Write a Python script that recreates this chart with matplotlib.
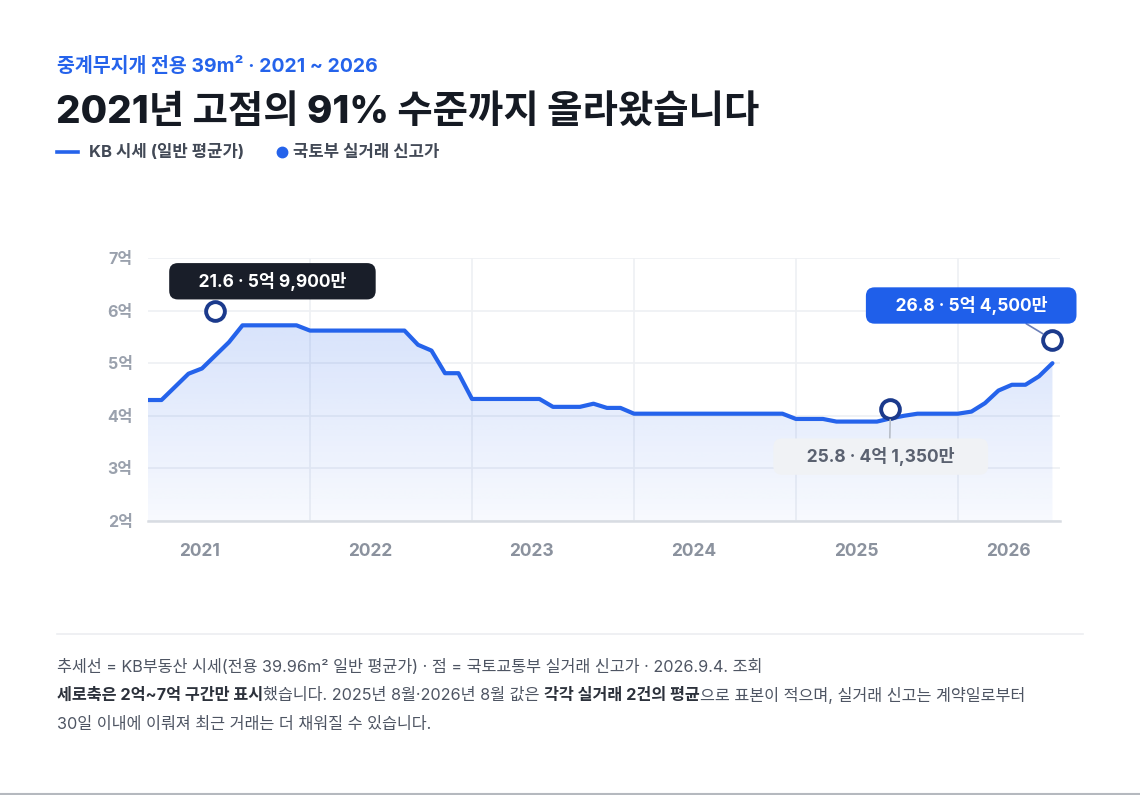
import numpy as np
import matplotlib
matplotlib.use("Agg")
import matplotlib.pyplot as plt
from matplotlib.text import Annotation

# Inter for latin/digits, Noto CJK KR for hangul
plt.rcParams['font.family'] = ['Inter', 'Noto Sans CJK KR', 'DejaVu Sans']

# KB monthly average price (억), Jan 2021 .. Aug 2026
kb_values = [
    4.30, 4.30, 4.55, 4.80, 4.90, 5.15, 5.40, 5.72, 5.72, 5.72, 5.72, 5.72,   # 2021
    5.62, 5.62, 5.62, 5.62, 5.62, 5.62, 5.62, 5.62, 5.35, 5.24, 4.81, 4.81,   # 2022
    4.32, 4.32, 4.32, 4.32, 4.32, 4.32, 4.17, 4.17, 4.17, 4.23, 4.15, 4.15,   # 2023
    4.04, 4.04, 4.04, 4.04, 4.04, 4.04, 4.04, 4.04, 4.04, 4.04, 4.04, 4.04,   # 2024
    3.94, 3.94, 3.94, 3.89, 3.89, 3.89, 3.89, 3.95, 4.00, 4.04, 4.04, 4.04,   # 2025
    4.04, 4.08, 4.24, 4.48, 4.59, 4.59, 4.75, 5.00,                           # 2026
]
kb_start_year = 2021

# 국토부 실거래 신고가 (yy.m, 만원)
deal_dates = ['21.6', '25.8', '26.8']
deal_prices = [59900, 41350, 54500]

years = [2021, 2022, 2023, 2024, 2025, 2026]
ytick_values = [2, 3, 4, 5, 6, 7]

BLUE = '#2563eb'
NAVY = '#1b3a8c'
W, H = 1140, 795


def fx(x):
    return x / W


def fy(y):
    return 1 - y / H


def deal_t(s):
    yy, mm = s.split('.')
    return 2000 + int(yy) + (int(mm) - 1) / 12


def price_text(manwon):
    eok, man = divmod(manwon, 10000)
    return f"{eok}억 {man:,}만"


t = kb_start_year + np.arange(len(kb_values)) / 12
v = np.array(kb_values)
dt = [deal_t(s) for s in deal_dates]
dv = [p / 10000 for p in deal_prices]

fig = plt.figure(figsize=(W / 100, H / 100), dpi=100)
fig.patch.set_facecolor('white')

# header
fig.text(fx(57), fy(66), "중계무지개 전용 39m² · 2021 ~ 2026", color=BLUE,
         fontsize=14, fontweight='bold', va='center')
fig.text(fx(56), fy(114), "2021년 고점의 91% 수준까지 올라왔습니다", color='#151a23',
         fontsize=27.7, fontweight='heavy', va='center')
fig.add_artist(plt.Line2D([fx(57), fx(78)], [fy(152), fy(152)], color=BLUE, lw=2.6))
fig.text(fx(89), fy(152), "KB 시세 (일반 평균가)", color='#424956',
         fontsize=12, fontweight='bold', va='center')
fig.add_artist(plt.Line2D([fx(282)], [fy(152)], marker='o', ms=7.5, color=BLUE, lw=0))
fig.text(fx(293), fy(152), "국토부 실거래 신고가", color='#424956',
         fontsize=12, fontweight='bold', va='center')

# chart
ax = fig.add_axes([fx(148), fy(521), (1060 - 148) / W, (521 - 258) / H])
ax.set_xlim(2021.0, 2026.63)
ax.set_ylim(2, 7)

poly = ax.fill_between(t, v, 2, color='none', lw=0)
grad = np.zeros((200, 2, 4))
grad[..., 0] = 37 / 255
grad[..., 1] = 99 / 255
grad[..., 2] = 235 / 255
grad[..., 3] = np.linspace(0.035, 0.18, 200)[:, None]
img = ax.imshow(grad, extent=[t[0], t[-1] + 0.05, 2, v.max()], origin='lower',
                aspect='auto', interpolation='bicubic', zorder=1)
img.set_clip_path(poly.get_paths()[0], transform=ax.transData)

ax.plot(t, v, color=BLUE, lw=3.0, solid_joinstyle='round', solid_capstyle='round', zorder=3)

ax.set_yticks(ytick_values)
ax.set_yticklabels([f"{y}억" for y in ytick_values], color='#9aa1ad',
                   fontsize=11.5, fontweight='bold')
ax.set_xticks([2021.32, 2022.37, 2023.37, 2024.37, 2025.37, 2026.31])
ax.set_xticklabels([str(y) for y in years], color='#8b929e', fontsize=12.5,
                   fontweight='bold')
ax.set_xticks(years[1:], minor=True)
ax.tick_params(axis='both', which='both', length=0)
ax.tick_params(axis='y', pad=11)
ax.tick_params(axis='x', pad=16)
ax.grid(axis='y', which='major', color='#eef0f3', lw=1.2)
ax.grid(axis='x', which='minor', color='#eef0f3', lw=1.2)
ax.set_axisbelow(True)
for s in ['top', 'right', 'left']:
    ax.spines[s].set_visible(False)
ax.spines['bottom'].set_color('#d8dce2')
ax.spines['bottom'].set_linewidth(1.8)
ax.spines['bottom'].set_zorder(4)

ax.plot(dt, dv, 'o', ms=13.5, mfc='white', mec=NAVY, mew=2.8, zorder=6, clip_on=False)

# callouts
styles = [
    dict(fc='#191e29', tc='white', off=(41, 21.5), rel=None, lc=None, sp=5),
    dict(fc='#f0f2f5', tc='#5a6170', off=(-7, -34.5), rel=(0.545, 1), lc='#b8bec8', sp=6),
    dict(fc='#1f5fea', tc='white', off=(-58.5, 24.5), rel=(0.71, 0), lc='#6b7fb8', sp=5),
]
for d, tt, vv, p, st in zip(deal_dates, dt, dv, deal_prices, styles):
    arrow = None
    if st['rel'] is not None:
        arrow = dict(arrowstyle='-', color=st['lc'], lw=1.2, relpos=st['rel'],
                     shrinkA=0, shrinkB=8)
    pad = ' ' * st['sp']
    ax.annotate(f"{pad}{d} · {price_text(p)}{pad}", xy=(tt, vv), xytext=st['off'],
                textcoords='offset points', ha='center', va='center',
                fontsize=12.5, fontweight='bold', color=st['tc'], zorder=7,
                annotation_clip=False, arrowprops=arrow,
                bbox=dict(boxstyle='round,pad=0.5,rounding_size=0.5',
                          fc=st['fc'], ec='none'))

# footer
fig.add_artist(plt.Line2D([fx(57), fx(1083)], [fy(634), fy(634)], color='#eceef1', lw=1.2))
REG = '#4e5563'
BOLD = '#2c313b'
FS = 11.7
fig.text(fx(57), fy(667), "추세선 = KB부동산 시세(전용 39.96m² 일반 평균가) · 점 = 국토교통부 실거래 신고가 · 2026.9.4. 조회",
         color=REG, fontsize=FS, va='center')

pieces = [
    ("세로축은 2억~7억 구간만 표시", 'bold', BOLD),
    ("했습니다. 2025년 8월·2026년 8월 값은 ", 'normal', REG),
    ("각각 실거래 2건의 평균", 'bold', BOLD),
    ("으로 표본이 적으며, 실거래 신고는 계약일로부터", 'normal', REG),
]
anchor = fig.text(fx(57), fy(695), pieces[0][0], fontweight=pieces[0][1],
                  color=pieces[0][2], fontsize=FS, va='center')
for txt, wgt, col in pieces[1:]:
    anchor = fig.add_artist(Annotation(
        txt, xy=(1, 0.5), xycoords=anchor, xytext=(0, 0), textcoords='offset points',
        ha='left', va='center', fontweight=wgt, color=col, fontsize=FS))

fig.text(fx(57), fy(724), "30일 이내에 이뤄져 최근 거래는 더 채워질 수 있습니다.",
         color=REG, fontsize=FS, va='center')

fig.add_artist(plt.Line2D([0, 1], [fy(793.5), fy(793.5)], color='#b5b9bf', lw=1.5))

fig.savefig('out.png', dpi=100, facecolor='white')
